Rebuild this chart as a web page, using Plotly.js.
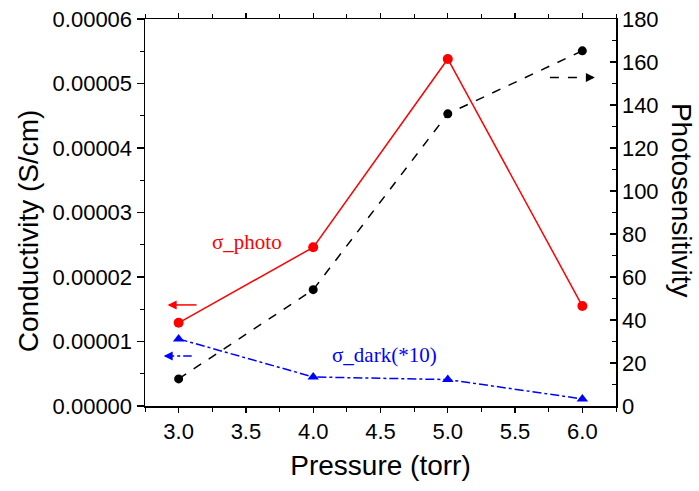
<!DOCTYPE html>
<html>
<head>
<meta charset="utf-8">
<script src="https://cdn.plot.ly/plotly-3.0.1.min.js"></script>
<style>html,body{margin:0;padding:0;background:#fff}#chart{width:699px;height:491px}</style>
</head>
<body>
<div id="chart"></div>
<script>
// Data
const pressure = [3.0, 4.0, 5.0, 6.0];
const sigmaPhoto = [1.29e-5, 2.46e-5, 5.38e-5, 1.55e-5];        // S/cm (left axis)
const sigmaDark10 = [1.04e-5, 0.45e-5, 0.41e-5, 0.11e-5];       // S/cm x10 (left axis)
const photosensitivity = [12.6, 54.1, 135.9, 165.2];            // right axis
const xTickVals = [3.0, 3.5, 4.0, 4.5, 5.0, 5.5, 6.0];
const xTickText = ["3.0", "3.5", "4.0", "4.5", "5.0", "5.5", "6.0"];

const sans = "Liberation Sans, Arial, sans-serif";
const serif = "Liberation Serif, Times New Roman, serif";

const traces = [
  {x: pressure, y: sigmaPhoto, type: "scatter", mode: "lines+markers", name: "σ_photo",
   line: {color: "#ff0000", width: 1.5}, marker: {color: "#ff0000", size: 10, symbol: "circle"}, yaxis: "y"},
  {x: pressure, y: photosensitivity, type: "scatter", mode: "lines+markers", name: "Photosensitivity",
   line: {color: "#000000", width: 1.5, dash: "dash"}, marker: {color: "#000000", size: 9, symbol: "circle"}, yaxis: "y2"},
  {x: pressure, y: sigmaDark10, type: "scatter", mode: "lines+markers", name: "σ_dark(*10)",
   line: {color: "#0000ff", width: 1.5, dash: "dashdot"}, marker: {color: "#0000ff", size: 10, symbol: "triangle-up"}, yaxis: "y"}
];

const layout = {
  width: 699, height: 491,
  margin: {l: 145, r: 83, t: 19, b: 85},
  paper_bgcolor: "#ffffff", plot_bgcolor: "#ffffff",
  showlegend: false,
  font: {family: sans, color: "#000", size: 22},
  xaxis: {
    range: [2.75, 6.25], tickvals: xTickVals, ticktext: xTickText,
    showgrid: false, zeroline: false, showline: true, linecolor: "#000", linewidth: 1.5,
    mirror: "ticks", ticks: "outside", ticklen: 5, tickwidth: 1.2, tickcolor: "#000",
    minor: {dtick: 0.25, tick0: 2.75, ticks: "outside", ticklen: 4, tickwidth: 1, tickcolor: "#000"},
    tickfont: {family: sans, size: 22},
    title: {text: "Pressure (torr)", font: {family: sans, size: 28}, standoff: 12}
  },
  yaxis: {
    range: [0, 0.00006], dtick: 0.00001, tickformat: ".5f",
    showgrid: false, zeroline: false, showline: true, linecolor: "#000", linewidth: 1.5,
    ticks: "outside", ticklen: 7, tickwidth: 1.2, tickcolor: "#000",
    minor: {dtick: 0.000005, ticks: "outside", ticklen: 4, tickwidth: 1, tickcolor: "#000"},
    tickfont: {family: sans, size: 22}
  },
  yaxis2: {
    overlaying: "y", side: "right", range: [0, 180], dtick: 20,
    showgrid: false, zeroline: false, showline: true, linecolor: "#000", linewidth: 1.5,
    ticks: "inside", ticklen: 6, tickwidth: 1.2, tickcolor: "#000",
    minor: {dtick: 10, ticks: "inside", ticklen: 4, tickwidth: 1, tickcolor: "#000"},
    tickfont: {family: sans, size: 22}
  },
  shapes: [
    {type: "line", xref: "x", yref: "y", x0: 2.93, x1: 3.133, y0: 1.567e-5, y1: 1.567e-5,
     line: {color: "#ff0000", width: 1.5}},
    {type: "line", xref: "x", yref: "y", x0: 2.90, x1: 3.097, y0: 0.776e-5, y1: 0.776e-5,
     line: {color: "#0000ff", width: 1.5, dash: "dashdot"}},
    {type: "line", xref: "x", yref: "y2", x0: 5.759, x1: 6.08, y0: 152.8, y1: 152.8,
     line: {color: "#000000", width: 1.5, dash: "dash"}}
  ],
  annotations: [
    {xref: "x", yref: "y", x: 2.918, y: 1.567e-5, ax: 6, ay: 0, text: "", showarrow: true,
     arrowhead: 2, arrowsize: 1.2, arrowwidth: 1.5, arrowcolor: "#ff0000"},
    {xref: "x", yref: "y", x: 2.889, y: 0.776e-5, ax: 6, ay: 0, text: "", showarrow: true,
     arrowhead: 2, arrowsize: 1.2, arrowwidth: 1.5, arrowcolor: "#0000ff"},
    {xref: "x", yref: "y2", x: 6.093, y: 152.8, ax: -6, ay: 0, text: "", showarrow: true,
     arrowhead: 2, arrowsize: 1.2, arrowwidth: 1.5, arrowcolor: "#000000"},
    {xref: "x", yref: "y", x: 3.507, y: 2.545e-5, text: "σ_photo", showarrow: false,
     font: {family: serif, size: 21, color: "#ff0000"}},
    {xref: "x", yref: "y", x: 4.533, y: 0.79e-5, text: "σ_dark(*10)", showarrow: false,
     font: {family: serif, size: 21, color: "#0000ff"}},
    {xref: "paper", yref: "paper", x: -0.248, y: 0.452, xanchor: "center", yanchor: "middle",
     text: "Conductivity (S/cm)", showarrow: false,
     textangle: -90, font: {family: sans, size: 28, color: "#000"}},
    {xref: "paper", yref: "paper", x: 1.138, y: 0.53, xanchor: "center", yanchor: "middle",
     text: "Photosensitivity", showarrow: false,
     textangle: 90, font: {family: sans, size: 28, color: "#000"}}
  ]
};

Plotly.newPlot("chart", traces, layout, {displayModeBar: false, staticPlot: true});
</script>
</body>
</html>
